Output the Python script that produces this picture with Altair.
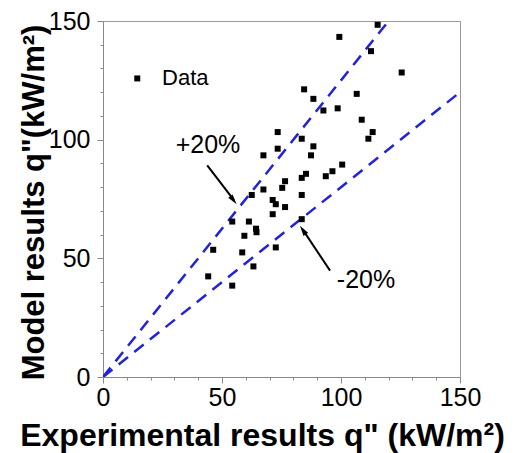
import altair as alt
import pandas as pd

# Measured data (experimental vs model heat flux, kW/m^2)
exp_q = [115.4, 99.3, 112.6, 125.5, 84.5, 88.4, 92.6, 98.6, 106.6, 108.7,
         113.3, 111.5, 73.4, 73.4, 83.5, 88.4, 87.4, 67.4, 100.5, 96.4,
         93.6, 85.3, 83.5, 76.5, 67.4, 75.3, 62.5, 71.3, 72.6, 76.5,
         83.5, 71.3, 83.5, 54.3, 61.3, 64.3, 64.5, 59.4, 46.3, 58.5,
         72.6, 63.2, 44.2, 54.3]
model_q = [148.4, 143.3, 137.3, 128.3, 121.2, 117.2, 112.3, 113.2, 119.3, 108.4,
           103.2, 100.4, 103.2, 96.2, 100.4, 97.2, 93.4, 93.4, 89.5, 86.7,
           84.6, 85.6, 83.9, 82.5, 79.0, 79.7, 76.7, 74.6, 72.8, 71.6,
           76.7, 68.6, 66.5, 65.5, 65.5, 62.5, 61.0, 59.5, 53.6, 52.5,
           54.6, 46.6, 42.4, 38.5]

# Error band lines (end points)
band_name = ["+20%", "+20%", "-20%", "-20%"]
band_x = [0, 120, 0, 150]
band_y = [0, 150, 0, 120]

# Annotation labels
label_text = ["+20%", "-20%"]
label_x = [44.1, 110.5]
label_y = [94.3, 37.7]

# Arrows: start and tip
arrow_name = ["+20%", "+20%", "-20%", "-20%"]
arrow_x = [43.8, 55.0, 95.4, 84.0]
arrow_y = [89.2, 74.5, 44.8, 62.0]
head_x = [54.6, 84.2]
head_y = [74.8, 61.6]
head_angle = [143, 326]

# Legend
legend_text = ["Data"]
legend_sym_x = [14.4]
legend_sym_y = [125.8]
legend_txt_x = [24.8]
legend_txt_y = [123.2]

# Axis ticks
tick_values = list(range(0, 151, 10))

FONT = "Liberation Sans"
xs = alt.Scale(domain=[0, 150], nice=False, zero=False)
ys = alt.Scale(domain=[0, 150], nice=False, zero=False)

tick_cond = {"condition": {"test": "datum.value % 50 === 0", "value": 6}, "value": 3}
lbl_expr = "datum.value % 50 === 0 ? datum.label : ''"

x_axis = alt.Axis(values=tick_values, labelExpr=lbl_expr,
                  tickSize=tick_cond, labelFlush=False, labelOverlap=False,
                  grid=False, title='Experimental results q" (kW/m²)',
                  titleFontSize=32, titleFont=FONT, titleFontWeight="bold",
                  labelFont=FONT, labelFontSize=25, labelColor="black",
                  titleColor="black", titleX=159, titleY=68,
                  titleBaseline="alphabetic", titleAlign="center",
                  labelPadding=2, domainColor="#888", tickColor="#888")
y_axis = alt.Axis(values=tick_values, labelExpr=lbl_expr,
                  tickSize=tick_cond, labelFlush=False, labelOverlap=False,
                  grid=False, title='Model results q"(kW/m²)',
                  titleFontSize=31, titleFont=FONT, titleFontWeight="bold",
                  labelFont=FONT, labelFontSize=25, labelColor="black",
                  titleColor="black", titleX=-60, titleY=181, titleAngle=270,
                  titleBaseline="alphabetic", titleAlign="center",
                  labelPadding=7, domainColor="#888", tickColor="#888")

X = lambda: alt.X("x:Q", scale=xs, axis=x_axis)
Y = lambda: alt.Y("y:Q", scale=ys, axis=y_axis)

pts = pd.DataFrame({"x": exp_q, "y": model_q})
bands = pd.DataFrame({"name": band_name, "x": band_x, "y": band_y})
labels = pd.DataFrame({"t": label_text, "x": label_x, "y": label_y})
arrows = pd.DataFrame({"name": arrow_name, "x": arrow_x, "y": arrow_y})
heads = pd.DataFrame({"x": head_x, "y": head_y, "a": head_angle})
leg_sym = pd.DataFrame({"x": legend_sym_x, "y": legend_sym_y})
leg_txt = pd.DataFrame({"t": legend_text, "x": legend_txt_x, "y": legend_txt_y})

band_layer = alt.Chart(bands).mark_line(color="#2222dd", strokeWidth=2.5,
                                        strokeDash=[12, 8], clip=True).encode(
    x=X(), y=Y(), detail="name:N")

pt_layer = alt.Chart(pts).mark_square(size=36, color="black", opacity=1).encode(
    x=X(), y=Y())

arrow_layer = alt.Chart(arrows).mark_line(color="black", strokeWidth=2).encode(
    x=X(), y=Y(), detail="name:N")

head_layer = alt.Chart(heads).mark_point(
    shape="M0,-1L0.45,0.7L-0.45,0.7Z", size=150, filled=True,
    color="black", opacity=1).encode(
    x=X(), y=Y(), angle=alt.Angle("a:Q", scale=None))

label_layer = alt.Chart(labels).mark_text(font=FONT, fontSize=25, color="black",
                                          align="center", baseline="alphabetic").encode(
    x=X(), y=Y(), text="t:N")

leg_sym_layer = alt.Chart(leg_sym).mark_square(size=36, color="black", opacity=1).encode(
    x=X(), y=Y())
leg_txt_layer = alt.Chart(leg_txt).mark_text(font=FONT, fontSize=22, color="black",
                                             align="left", baseline="alphabetic").encode(
    x=X(), y=Y(), text="t:N")

chart = alt.layer(band_layer, pt_layer, arrow_layer, head_layer, label_layer,
                  leg_sym_layer, leg_txt_layer).properties(
    width=357, height=356,
    autosize=alt.AutoSizeParams(type="none"),
    padding={"left": 95, "top": 13, "right": 56, "bottom": 76},
    background="white",
).configure_view(stroke="#999", strokeWidth=1).configure_axis(labelOverlap=False)

chart.save("out.html", embed_options={"renderer": "svg", "actions": False})
